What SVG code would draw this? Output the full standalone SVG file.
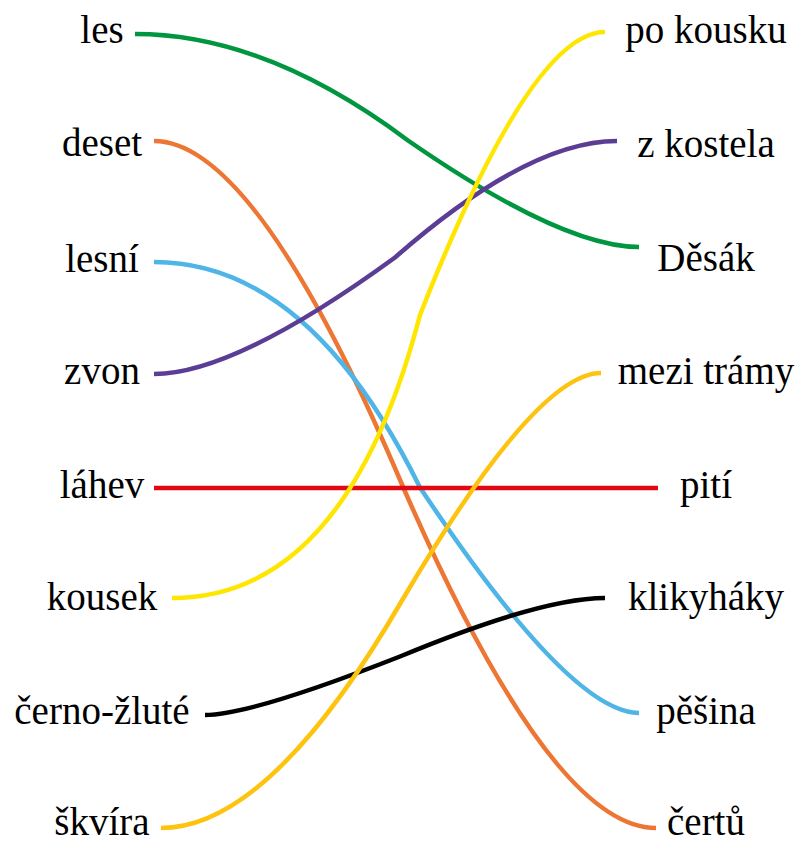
<svg xmlns="http://www.w3.org/2000/svg" width="800" height="842" viewBox="0 0 800 842">
<style>
text{font-family:"Liberation Serif","Times New Roman",serif;font-size:39px;fill:#000;text-anchor:middle}
.c{fill:none;stroke-width:4.5}
</style>
<rect width="800" height="842" fill="#fff"/>
<g id="left" font-family="'Liberation Serif', serif">
<g id="n-les"><text x="102" y="43">les</text></g>
<g id="n-deset"><text x="102" y="156">deset</text></g>
<g id="n-lesni"><text x="102" y="272">lesní</text></g>
<g id="n-zvon"><text x="102" y="384">zvon</text></g>
<g id="n-lahev"><text x="102" y="498">láhev</text></g>
<g id="n-kousek"><text x="102" y="610">kousek</text></g>
<g id="n-cernozlute"><text x="102" y="724">černo-žluté</text></g>
<g id="n-skvira"><text x="102" y="835">škvíra</text></g>
</g>
<g id="right" font-family="'Liberation Serif', serif">
<g id="n-pokousku"><text x="706" y="43">po kousku</text></g>
<g id="n-zkostela"><text x="706" y="157">z kostela</text></g>
<g id="n-desak"><text x="706" y="271">Děsák</text></g>
<g id="n-mezitramy"><text x="706" y="384">mezi trámy</text></g>
<g id="n-piti"><text x="706" y="498">pití</text></g>
<g id="n-klikyhaky"><text x="706" y="610">klikyháky</text></g>
<g id="n-pesina"><text x="706" y="724">pěšina</text></g>
<g id="n-certu"><text x="706" y="835">čertů</text></g>
</g>
<g id="connectors">
<path class="c" stroke="#009640" d="M135,34 Q266,34 408,140.5 Q562,247 639,247"/>
<path class="c" stroke="#ee7634" d="M154,141 Q256,141 402,484.5 Q551,828 656,828"/>
<path class="c" stroke="#4fb4e6" d="M154,262 Q309,262 420,487.5 Q570,713 639,713"/>
<path class="c" stroke="#5c3d96" d="M154,374 Q235,374 395,257.5 Q528,141 617,141"/>
<path class="c" stroke="#e30613" d="M154,488 L658,488"/>
<path class="c" stroke="#ffe600" d="M172,598 Q346,598 420,315 Q531,32 605,32"/>
<path class="c" stroke="#000" d="M205,715 Q251,715 400,656.5 Q541,598 605,598"/>
<path class="c" stroke="#fdc30e" d="M161,828 Q270,828 402,600.5 Q536,373 601,373"/>
</g>
</svg>
